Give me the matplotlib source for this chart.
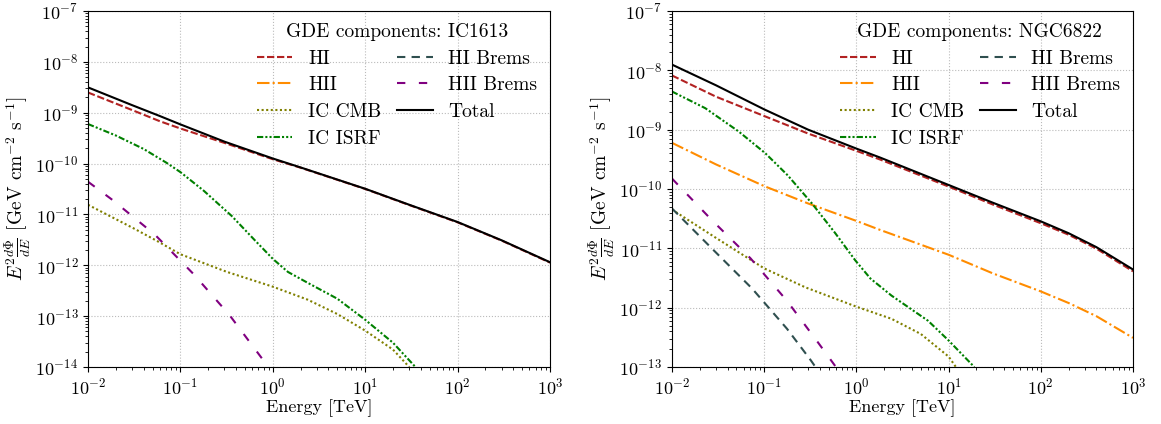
import matplotlib
matplotlib.use("Agg")
import matplotlib.pyplot as plt

plt.rcParams['font.family'] = 'serif'
plt.rcParams['font.serif'] = ['cmr10', 'DejaVu Serif']
plt.rcParams['mathtext.fontset'] = 'cm'
plt.rcParams['axes.formatter.use_mathtext'] = True

# IC1613 (left panel), energies in TeV
e_l = [0.01, 0.03, 0.06, 0.1, 0.3, 1, 2, 10, 30, 100, 300, 1000]
hi_l = [2.5e-9, 1.13e-9, 6.8e-10, 4.9e-10, 2.55e-10, 1.22e-10, 8.3e-11, 3.17e-11, 1.53e-11, 7.0e-12, 3.06e-12, 1.13e-12]
tot_l = [3.15e-9, 1.41e-9, 8.6e-10, 5.9e-10, 2.7e-10, 1.26e-10, 8.4e-11, 3.2e-11, 1.55e-11, 7.1e-12, 3.1e-12, 1.15e-12]
e_isrf_l = [0.01, 0.02, 0.04, 0.07, 0.1, 0.18, 0.36, 0.64, 1.0, 1.46, 2.4, 5, 10, 20, 35]
isrf_l = [6e-10, 3.57e-10, 1.94e-10, 1.05e-10, 6.8e-11, 2.9e-11, 9.3e-12, 3.1e-12, 1.34e-12, 7.4e-13, 4.5e-13, 2.2e-13, 8.5e-14, 3e-14, 1e-14]
e_cmb_l = [0.01, 0.032, 0.058, 0.1, 0.32, 1, 2.4, 5, 10, 20, 30]
cmb_l = [1.55e-11, 5.2e-12, 2.9e-12, 1.65e-12, 7.4e-13, 3.8e-13, 2.1e-13, 1.1e-13, 5.2e-14, 2.2e-14, 1e-14]
e_hiibr_l = [0.01, 0.0186, 0.053, 0.139, 0.34, 0.78, 0.85]
hiibr_l = [4.4e-11, 1.9e-11, 4e-12, 6.7e-13, 1.05e-13, 1.4e-14, 1e-14]

# NGC6822 (right panel)
e_r = [0.01, 0.03, 0.1, 0.3, 1, 1.8, 10, 30, 100, 200, 400, 1000]
hi_r = [8.2e-9, 3.6e-9, 1.7e-9, 8.6e-10, 4.4e-10, 3.15e-10, 1.1e-10, 5.5e-11, 2.65e-11, 1.7e-11, 9.9e-12, 4.1e-12]
hii_r = [6e-10, 2.6e-10, 1.12e-10, 5.7e-11, 2.9e-11, 2.05e-11, 7.8e-12, 3.8e-12, 1.88e-12, 1.2e-12, 7.2e-13, 3.1e-13]
tot_r = [1.25e-8, 5.6e-9, 2.2e-9, 1.0e-9, 4.8e-10, 3.4e-10, 1.17e-10, 5.9e-11, 2.85e-11, 1.8e-11, 1.05e-11, 4.4e-12]
e_isrf_r = [0.01, 0.023, 0.053, 0.103, 0.18, 0.33, 0.59, 0.97, 1.42, 2.4, 6, 10, 19]
isrf_r = [4.4e-9, 2.3e-9, 9.3e-10, 4e-10, 1.7e-10, 5.7e-11, 1.8e-11, 6.3e-12, 3.1e-12, 1.6e-12, 6e-13, 2.8e-13, 1e-13]
e_cmb_r = [0.01, 0.03, 0.1, 0.28, 1, 2.4, 5, 10, 12]
cmb_r = [4.5e-11, 1.5e-11, 4.6e-12, 2.2e-12, 1.04e-12, 6.5e-13, 3.6e-13, 1.5e-13, 1e-13]
e_hibr_r = [0.01, 0.027, 0.074, 0.177, 0.32, 0.36]
hibr_r = [4.7e-11, 1e-11, 2.1e-12, 4.4e-13, 1.3e-13, 1e-13]
e_hiibr_r = [0.01, 0.027, 0.071, 0.177, 0.39, 0.6]
hiibr_r = [1.5e-10, 3e-11, 6.8e-12, 1.3e-12, 2.5e-13, 1e-13]

styles = {
    'HI': dict(color='#b22222', ls=(0, (3.5, 1.3))),
    'HII': dict(color='darkorange', ls=(0, (6, 1.5, 1, 1.5))),
    'IC CMB': dict(color='#808000', ls=(0, (1, 1.2))),
    'IC ISRF': dict(color='green', ls=(0, (3, 1, 1, 1, 1, 1))),
    'HI Brems': dict(color='#2f4f4f', ls=(0, (4, 3))),
    'HII Brems': dict(color='purple', ls=(0, (4, 6.5))),
    'Total': dict(color='black', ls='-'),
}

fig = plt.figure(figsize=(11.61, 4.24), dpi=100)
ax1 = fig.add_axes([0.0758, 0.1344, 0.3979, 0.8396])
ax2 = fig.add_axes([0.5788, 0.1344, 0.3971, 0.8396])

panels = [
    (ax1, 'IC1613', {'HI': (e_l, hi_l), 'HII': ([], []), 'IC CMB': (e_cmb_l, cmb_l),
                     'IC ISRF': (e_isrf_l, isrf_l), 'HI Brems': ([], []),
                     'HII Brems': (e_hiibr_l, hiibr_l), 'Total': (e_l, tot_l)}, 1e-14),
    (ax2, 'NGC6822', {'HI': (e_r, hi_r), 'HII': (e_r, hii_r), 'IC CMB': (e_cmb_r, cmb_r),
                      'IC ISRF': (e_isrf_r, isrf_r), 'HI Brems': (e_hibr_r, hibr_r),
                      'HII Brems': (e_hiibr_r, hiibr_r), 'Total': (e_r, tot_r)}, 1e-13),
]

for ax, name, series, ymin in panels:
    for label, (x, y) in series.items():
        ax.plot(x, y, lw=1.5, label=label, **styles[label])
    ax.set_xscale('log')
    ax.set_yscale('log')
    ax.set_xlim(1e-2, 1e3)
    ax.set_ylim(ymin, 1e-7)
    ax.grid(True, which='major', ls=':', color='#bbbbbb', lw=0.8)
    ax.tick_params(labelsize=13)
    ax.set_xlabel('Energy [TeV]', fontsize=13, labelpad=1)
    ax.set_ylabel(r'$E^2\frac{d\Phi}{dE}$ [GeV cm$^{-2}$ s$^{-1}$]', fontsize=14, labelpad=2)
    ax.legend(ncol=2, loc='upper right', bbox_to_anchor=(0.9935, 0.994), frameon=False,
              fontsize=14, title='GDE components: ' + name, title_fontsize=14,
              handlelength=1.85, handletextpad=0.8, columnspacing=0.8,
              labelspacing=0.45, borderaxespad=0.1)

fig.savefig('out.png', dpi=100)
